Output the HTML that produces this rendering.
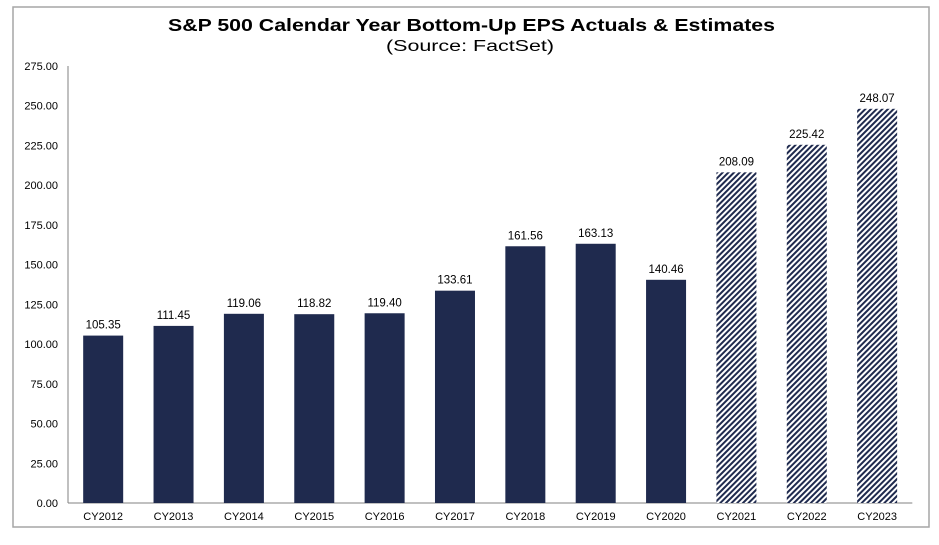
<!DOCTYPE html>
<html><head><meta charset="utf-8"><style>
body{margin:0;background:#fff;width:939px;height:540px;overflow:hidden;font-family:"Liberation Sans",Arial,sans-serif}
</style></head><body>
<svg width="939" height="540" xmlns="http://www.w3.org/2000/svg">
<defs>
<pattern id="hatch" width="4" height="4" patternUnits="userSpaceOnUse" patternTransform="rotate(45)">
<rect width="4" height="4" fill="#fff"/>
<rect width="2" height="4" fill="#1f2a4e"/>
</pattern>
</defs>
<rect x="13" y="7" width="916" height="520" fill="#fff" stroke="#a6a6a6" stroke-width="1.5"/>
<text x="168" y="31" textLength="607" lengthAdjust="spacingAndGlyphs" font-size="17.5" font-weight="bold" fill="#000">S&amp;P 500 Calendar Year Bottom-Up EPS Actuals &amp; Estimates</text>
<text x="386" y="51" textLength="168" lengthAdjust="spacingAndGlyphs" font-size="15.5" fill="#000">(Source: FactSet)</text>
<g id="axes"></g>
<g id="bars"></g>
</svg>
<script>
const categories=["CY2012","CY2013","CY2014","CY2015","CY2016","CY2017","CY2018","CY2019","CY2020","CY2021","CY2022","CY2023"];
const values=[105.35,111.45,119.06,118.82,119.40,133.61,161.56,163.13,140.46,208.09,225.42,248.07];
const isEstimate=[false,false,false,false,false,false,false,false,false,true,true,true];
const ticks=[0,25,50,75,100,125,150,175,200,225,250,275];
const NS="http://www.w3.org/2000/svg";
const x0=68,step=70.36,barW=40,yBase=503,yTop=66,yMax=275;
const yScale=v=>yBase-(v/yMax)*(yBase-yTop);
const xCenter=i=>x0+step*(i+0.5);
function mk(tag,attrs,parent,text){const e=document.createElementNS(NS,tag);for(const k in attrs)e.setAttribute(k,attrs[k]);if(text!==undefined)e.textContent=text;parent.appendChild(e);return e;}
const ax=document.getElementById('axes'),bg=document.getElementById('bars');
ticks.forEach(t=>{
 const lb=mk('text',{x:58,y:yScale(t)+4,'text-anchor':'end','font-size':11,fill:'#000'},ax,t.toFixed(2));
 
 
});
const yl=mk('line',{x1:x0,y1:yTop,x2:x0,y2:yBase,stroke:'#808080','stroke-width':1},ax);


const xl=mk('line',{x1:x0,y1:yBase,x2:x0+step*categories.length,y2:yBase,stroke:'#808080','stroke-width':1},ax);


categories.forEach((c,i)=>{
 const cx=xCenter(i),y=yScale(values[i]);
 const r=mk('rect',{x:cx-barW/2,y:y,width:barW,height:yBase-y,fill:isEstimate[i]?'url(#hatch)':'#1f2a4e'},bg);
 
 
 const v=mk('text',{x:cx,y:y-7,'text-anchor':'middle','font-size':11.5,fill:'#000'},bg,values[i].toFixed(2));
 
 
 const l=mk('text',{x:cx,y:520,'text-anchor':'middle','font-size':11,fill:'#000'},bg,c);
 
 
});
</script>
</body></html>
